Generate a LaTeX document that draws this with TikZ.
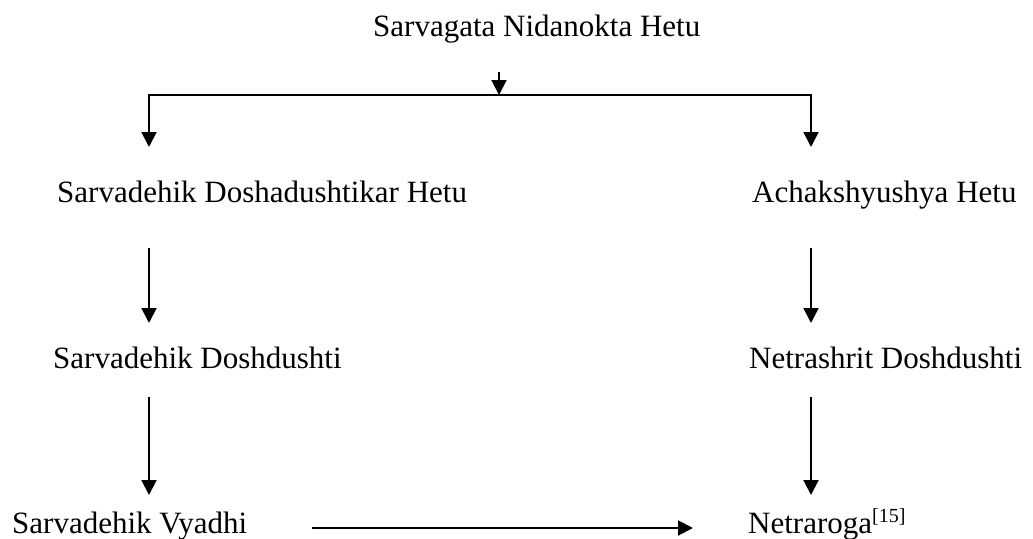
\documentclass[tikz,border=0pt]{standalone}
\usepackage{fontspec}
\setmainfont{Liberation Serif}
\usetikzlibrary{arrows.meta}
\begin{document}
\begin{tikzpicture}[x=1pt,y=-1pt,
  lbl/.style={anchor=base west,inner sep=0pt,font=\fontsize{31}{36}\selectfont},
  arr/.style={line width=2pt,-{Triangle[width=15pt,length=15pt]}}]
\useasboundingbox (0,0) rectangle (1033,538);
% texts
\node[lbl] (top) at (373,36) {Sarvagata Nidanokta Hetu};
\node[lbl] (l1) at (57,202) {Sarvadehik Doshadushtikar Hetu};
\node[lbl] (r1) at (752,202) {Achakshyushya Hetu};
\node[lbl] (l2) at (53,368) {Sarvadehik Doshdushti};
\node[lbl] (r2) at (749,368) {Netrashrit Doshdushti};
\node[lbl] (l3) at (12,533) {Sarvadehik Vyadhi};
\node[lbl] (r3) at (748,533) {Netraroga\raisebox{11pt}{\fontsize{20}{20}\selectfont[15]}};
% connector points
\coordinate (s0) at (499,72);
\coordinate (split) at (499,95);
\coordinate (l1tip) at (149,147);
\coordinate (r1tip) at (811,147);
\coordinate (l12a) at (149,248);
\coordinate (l12b) at (149,323);
\coordinate (r12a) at (811,248);
\coordinate (r12b) at (811,323);
\coordinate (l23a) at (149,397);
\coordinate (l23b) at (149,495);
\coordinate (r23a) at (811,397);
\coordinate (r23b) at (811,495);
\coordinate (ha) at (312,528);
\coordinate (hb) at (693,528);
% connectors
\draw[arr] (s0) -- (split);
\draw[arr] (split) -| (l1tip);
\draw[arr] (split) -| (r1tip);
\draw[arr] (l12a) -- (l12b);
\draw[arr] (r12a) -- (r12b);
\draw[arr] (l23a) -- (l23b);
\draw[arr] (r23a) -- (r23b);
\draw[arr] (ha) -- (hb);
\end{tikzpicture}
\end{document}
